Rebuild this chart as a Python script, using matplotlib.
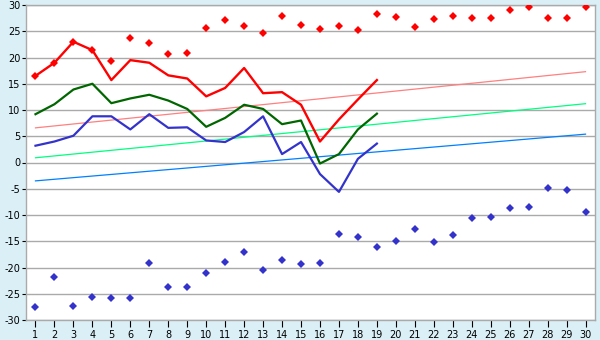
import matplotlib
matplotlib.use("Agg")
import matplotlib.pyplot as plt
import numpy as np

days = list(range(1, 31))
obs_days = list(range(1, 20))

tmax = [16.5, 19.0, 23.0, 21.4, 15.7, 19.5, 19.0, 16.6, 16.0, 12.6,
        14.2, 18.0, 13.2, 13.4, 11.0, 4.0, 8.2, 12.0, 15.7]
tmean = [9.2, 11.1, 13.9, 15.0, 11.3, 12.2, 12.9, 11.8, 10.2, 6.8,
         8.5, 11.0, 10.2, 7.3, 8.0, -0.2, 1.6, 6.3, 9.3]
tmin = [3.2, 4.0, 5.1, 8.8, 8.8, 6.3, 9.2, 6.6, 6.7, 4.2,
        3.9, 5.8, 8.8, 1.6, 3.9, -2.2, -5.6, 0.7, 3.6]

rec_max = [16.5, 19.0, 23.0, 21.4, 19.3, 23.7, 22.7, 20.6, 20.8, 25.6,
           27.1, 26.0, 24.6, 27.9, 26.1, 25.4, 26.0, 25.2, 28.2, 27.7,
           25.8, 27.3, 27.9, 27.5, 27.5, 29.0, 29.7, 27.5, 27.5, 29.6]
rec_min = [-27.6, -21.9, -27.4, -25.7, -25.9, -25.9, -19.2, -23.8, -23.8, -21.1,
           -19.0, -17.0, -20.4, -18.6, -19.4, -19.2, -13.7, -14.1, -16.0, -14.9,
           -12.6, -15.1, -13.9, -10.5, -10.3, -8.6, -8.4, -4.8, -5.2, -9.4]

trend_days = [1, 30]
norm_max = [6.6, 17.3]
norm_mean = [0.9, 11.2]
norm_min = [-3.5, 5.4]

yticks = list(range(-30, 31, 5))

bg = "#DAEFF6"
fig = plt.figure(figsize=(6, 3.4), dpi=100, facecolor=bg)
ax = fig.add_axes([26/600, 20/340, 569/600, 315/340])
ax.set_facecolor("white")

for y in yticks:
    ax.axhline(y, color="#AAAAAA", lw=1.0, zorder=1)

ax.plot(trend_days, norm_max, color="#FF8080", lw=0.9, zorder=2)
ax.plot(trend_days, norm_mean, color="#00FF80", lw=0.9, zorder=2)
ax.plot(trend_days, norm_min, color="#0080FF", lw=0.9, zorder=2)

ax.plot(obs_days, tmin, color="#3333CC", lw=1.6, zorder=3)
ax.plot(obs_days, tmean, color="#006600", lw=1.6, zorder=3)
ax.plot(obs_days, tmax, color="#FF0000", lw=1.7, zorder=4)

ax.plot(days, rec_max, ls="none", marker="D", ms=3.8, color="#FF0000",
        mec="#FF0000", mew=0, zorder=5)
ax.plot(days, rec_min, ls="none", marker="D", ms=3.8, color="#3333CC",
        mec="#3333CC", mew=0, zorder=5)

ax.set_xlim(0.5, 30.5)
ax.set_ylim(-30, 30)
ax.set_xticks(days)
ax.set_xticklabels([str(d) for d in days])
ax.set_yticks(yticks)
ax.set_yticklabels([str(y) for y in yticks])

for s in ["top", "right", "left", "bottom"]:
    ax.spines[s].set_color("#AAAAAA")
    ax.spines[s].set_linewidth(1.0)

ax.tick_params(axis="x", direction="out", length=5, width=0.8, color="black",
               labelsize=7, pad=2, labelcolor="black")
ax.tick_params(axis="y", direction="out", length=3, width=0.8, color="black",
               labelsize=7, pad=1, labelcolor="black")

fig.savefig("out.png", dpi=100, facecolor=bg)
